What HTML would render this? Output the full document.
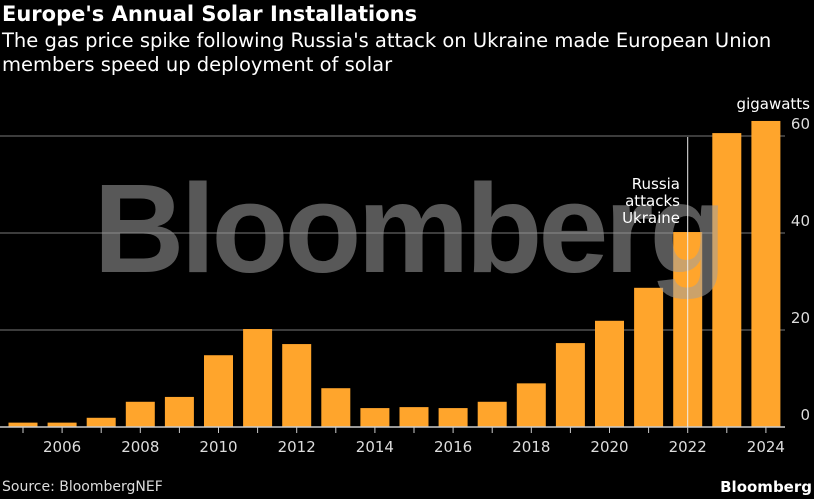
<!DOCTYPE html>
<html><head><meta charset="utf-8"><style>
body{margin:0;background:#000;width:814px;height:499px;overflow:hidden;font-family:"DejaVu Sans","Liberation Sans",sans-serif;color:#fff}
.t{position:absolute;left:2px;top:2px;font-weight:bold;font-size:21px}
.s{position:absolute;left:2px;top:29px;font-size:19.5px;line-height:24px;width:810px}
.src{position:absolute;left:2px;top:479px;font-size:14px;color:#ddd}
.brand{position:absolute;right:2px;top:478px;font-size:15px;font-weight:bold}
svg{position:absolute;left:0;top:0}
</style></head><body>
<div class="t">Europe's Annual Solar Installations</div>
<div class="s">The gas price spike following Russia's attack on Ukraine made European Union members speed up deployment of solar</div>
<svg id="c" width="814" height="499"></svg>
<div class="src">Source: BloombergNEF</div>
<div class="brand">Bloomberg</div>
<script>
const years=[2005,2006,2007,2008,2009,2010,2011,2012,2013,2014,2015,2016,2017,2018,2019,2020,2021,2022,2023,2024];
const values=[0.9,0.9,1.9,5.2,6.2,14.8,20.2,17.1,8,3.9,4.1,3.9,5.2,9,17.3,21.9,28.7,40.2,60.6,63.1];
const yTicks=[0,20,40,60];
const xLabels=[2006,2008,2010,2012,2014,2016,2018,2020,2022,2024];
const svg=document.getElementById('c');const NS='http://www.w3.org/2000/svg';
const x=yr=>23+(yr-2005)*39.1;
const y=v=>427-v*4.85;
function mk(t,a){const e=document.createElementNS(NS,t);for(const k in a)e.setAttribute(k,a[k]);svg.appendChild(e);return e;}
yTicks.forEach(v=>{if(v>0){const l=mk('line',{x1:0,x2:785,y1:y(v),y2:y(v),stroke:'#777','stroke-width':1});

}
const t=mk('text',{x:810,y:y(v)-7,'text-anchor':'end',fill:'#ddd','font-size':15,'font-family':'DejaVu Sans, sans-serif'});t.textContent=v;

});
years.forEach((yr,i)=>{const r=mk('rect',{x:x(yr)-14.5,y:y(values[i]),width:29,height:427-y(values[i]),fill:'#ffa52c'});


const tk=mk('line',{x1:x(yr),x2:x(yr),y1:427,y2:433,stroke:'#ccc'});

});
const w=mk('text',{x:408,y:272,'text-anchor':'middle',fill:'#a0a0a0','fill-opacity':0.55,'font-size':126,'font-weight':'bold','font-family':'Liberation Sans, sans-serif','letter-spacing':'-4'});w.textContent='Bloomberg';


const base=mk('line',{x1:0,x2:785,y1:427,y2:427,stroke:'#ccc','stroke-width':1.5});


xLabels.forEach(yr=>{const t=mk('text',{x:x(yr),y:452,'text-anchor':'middle',fill:'#ddd','font-size':15,'font-family':'DejaVu Sans, sans-serif'});t.textContent=yr;

});
const ev=mk('line',{x1:x(2022),x2:x(2022),y1:137,y2:427,stroke:'#eee','stroke-width':1});


['Russia','attacks','Ukraine'].forEach((s,i)=>{const t=mk('text',{x:680,y:189+i*17,'text-anchor':'end',fill:'#fff','font-size':15,'font-family':'DejaVu Sans, sans-serif'});t.textContent=s;

});
const u=mk('text',{x:810,y:109,'text-anchor':'end',fill:'#fff','font-size':15,'font-family':'DejaVu Sans, sans-serif'});u.textContent='gigawatts';


</script>
</body></html>
